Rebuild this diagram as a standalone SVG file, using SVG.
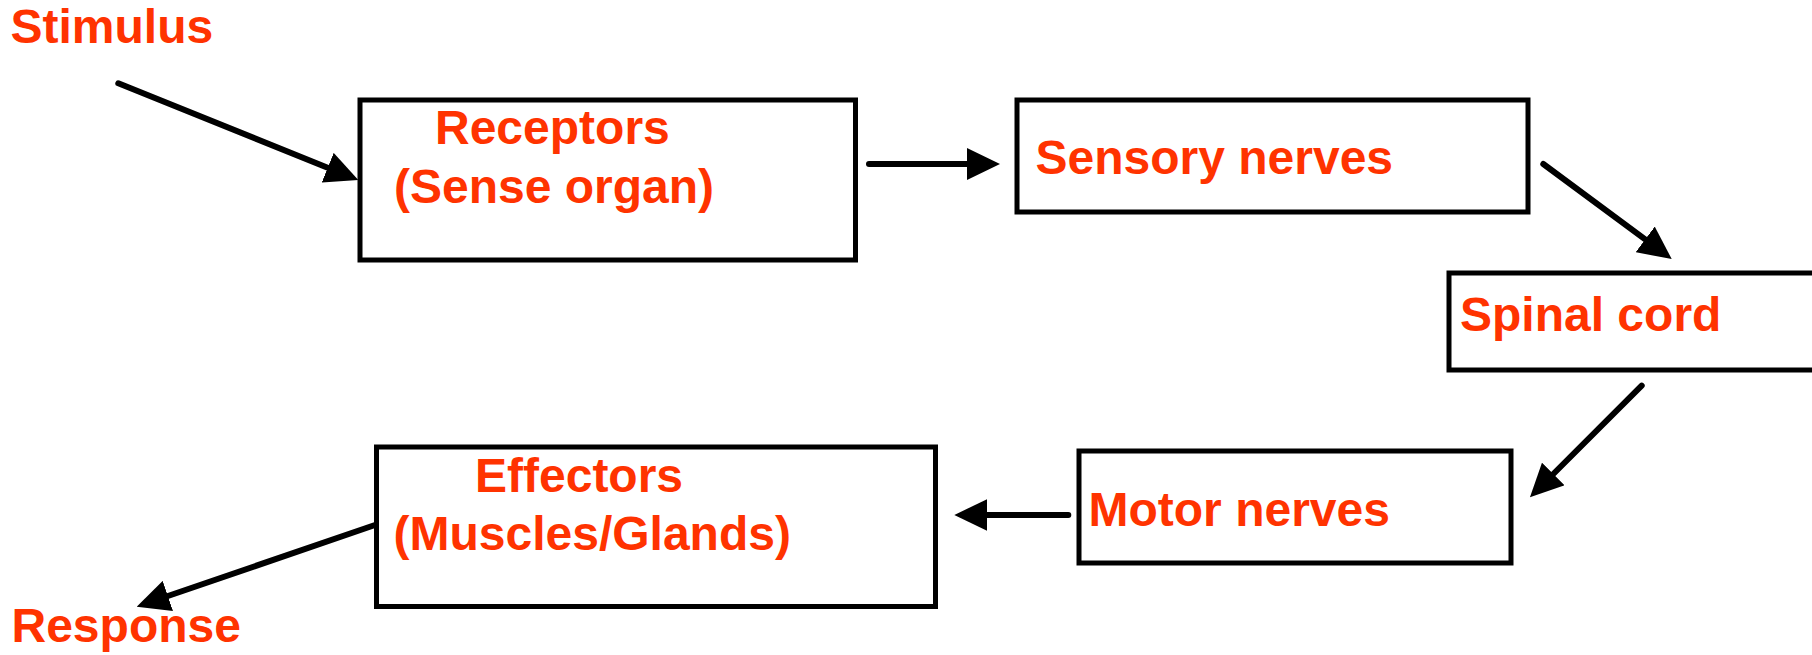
<svg xmlns="http://www.w3.org/2000/svg" width="1812" height="655" viewBox="0 0 1812 655">
  <style>
    .box { fill: #ffffff; stroke: #000000; stroke-width: 5; }
    .lbl { font-family: "Liberation Sans", Arial, sans-serif; font-weight: bold; font-size: 48px; fill: #ff3300; }
    .conn { stroke: #000000; stroke-width: 6; stroke-linecap: round; fill: none; marker-end: url(#arrow); }
  </style>
  <defs>
    <marker id="arrow" markerUnits="userSpaceOnUse" viewBox="0 0 33 32" markerWidth="33" markerHeight="32" refX="0" refY="16" orient="auto">
      <path d="M0,0 L33,16 L0,32 Z" fill="#000000"/>
    </marker>
  </defs>
  <rect width="1812" height="655" fill="#ffffff"/>

  <!-- free labels -->
  <g id="stimulus">
    <text class="lbl" x="10.5" y="43">Stimulus</text>
  </g>
  <g id="response">
    <text class="lbl" x="11.5" y="641.5">Response</text>
  </g>

  <!-- nodes -->
  <g id="receptors">
    <rect class="box" x="360" y="100" width="495.5" height="160"/>
    <text class="lbl" x="435" y="144">Receptors</text>
    <text class="lbl" x="394" y="203">(Sense organ)</text>
  </g>
  <g id="sensory-nerves">
    <rect class="box" x="1017" y="100" width="511" height="112"/>
    <text class="lbl" x="1035.5" y="174">Sensory nerves</text>
  </g>
  <g id="spinal-cord">
    <rect class="box" x="1449" y="273" width="400" height="97"/>
    <text class="lbl" x="1460" y="331">Spinal cord</text>
  </g>
  <g id="motor-nerves">
    <rect class="box" x="1079" y="451" width="432" height="112"/>
    <text class="lbl" x="1088.5" y="525.5">Motor nerves</text>
  </g>
  <g id="effectors">
    <rect class="box" x="376.5" y="447" width="559" height="159.5"/>
    <text class="lbl" x="475" y="491.5">Effectors</text>
    <text class="lbl" x="393.5" y="550">(Muscles/Glands)</text>
  </g>

  <!-- connectors -->
  <g id="connectors">
    <line class="conn" x1="118.3" y1="83.3" x2="327.7" y2="167.7"/>
    <line class="conn" x1="869" y1="164" x2="967" y2="164"/>
    <line class="conn" x1="1543.3" y1="164" x2="1645.2" y2="239.4"/>
    <line class="conn" x1="1641.7" y1="385.7" x2="1553.3" y2="474"/>
    <line class="conn" x1="1068.3" y1="515" x2="987.3" y2="515"/>
    <line class="conn" x1="375" y1="525" x2="167.9" y2="596"/>
  </g>
</svg>
